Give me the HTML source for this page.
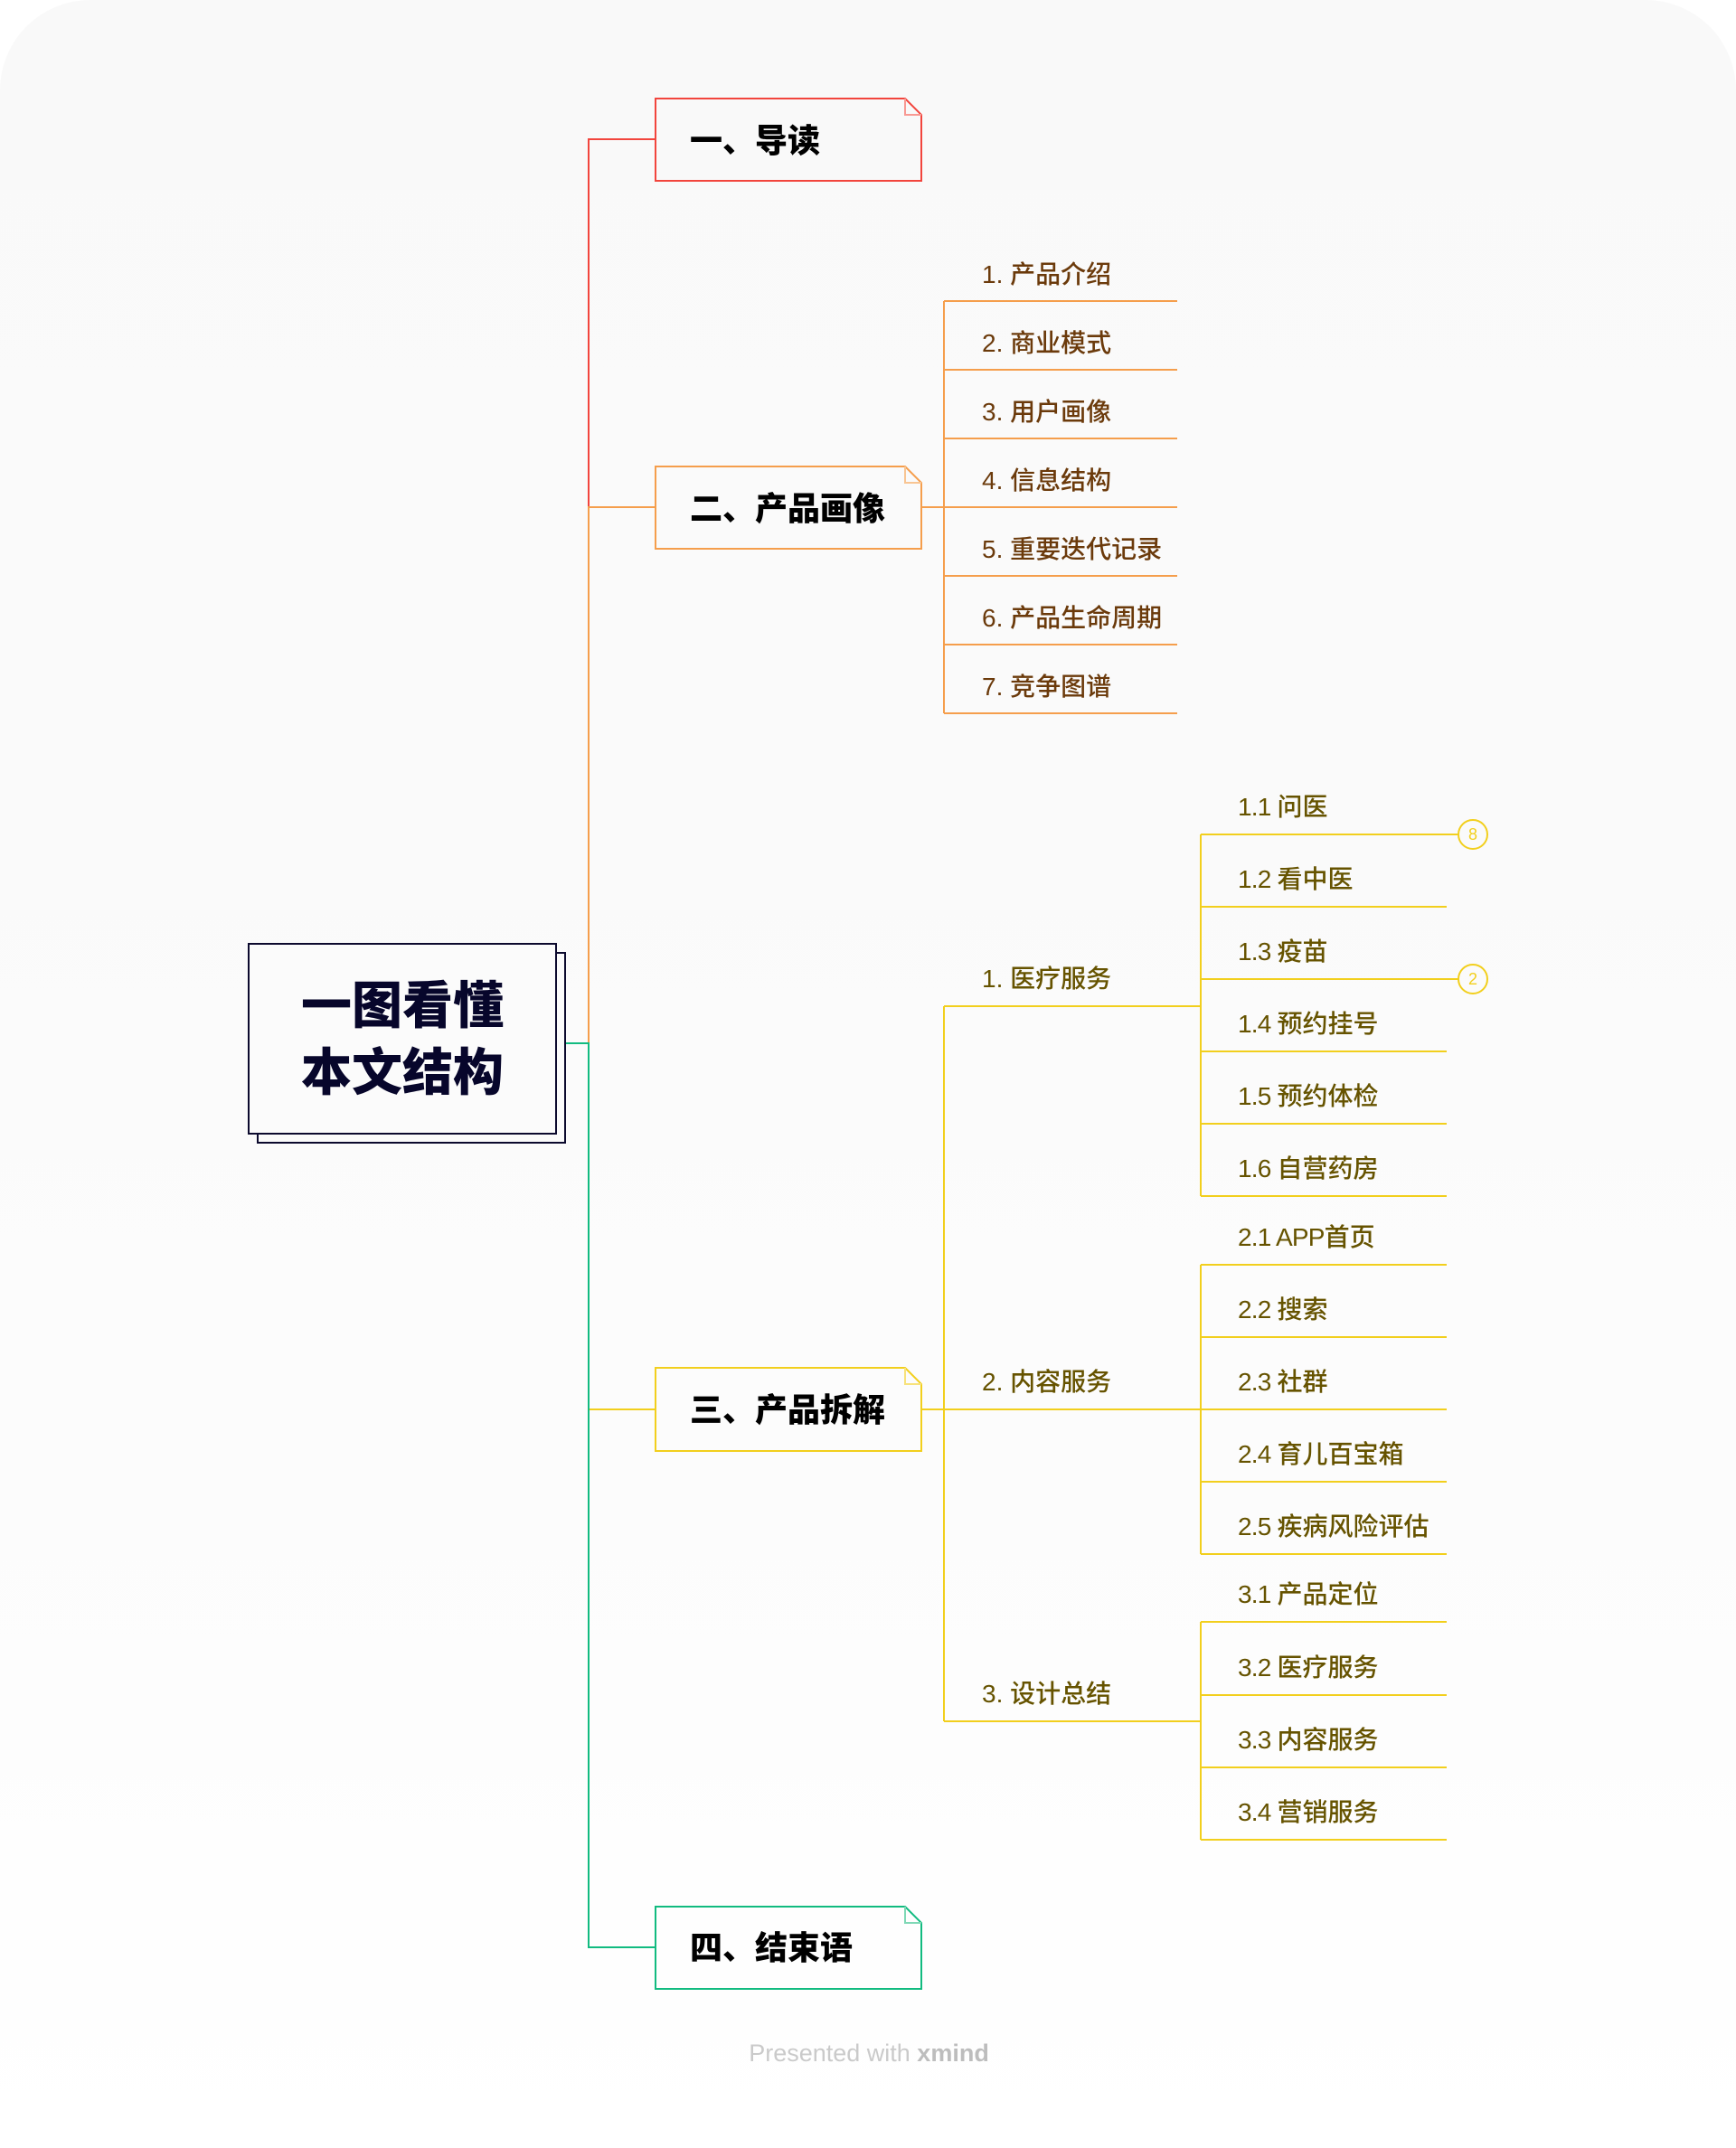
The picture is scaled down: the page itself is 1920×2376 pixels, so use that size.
<!DOCTYPE html>
<html>
<head>
<meta charset="utf-8">
<style>
  html, body { margin: 0; padding: 0; background: #ffffff; }
  body { width: 1920px; height: 2376px; overflow: hidden; }
  svg { display: block; }
  .box { font-family: "Liberation Sans", "Noto Sans CJK SC", sans-serif; font-size: 36px; font-weight: 900; fill: #000; }
  .root { font-family: "Liberation Sans", "Noto Sans CJK SC", sans-serif; font-size: 56px; font-weight: 900; fill: #07062b; }
  .to { font-family: "Liberation Sans", "Noto Sans CJK SC", sans-serif; font-size: 28px; font-weight: 500; fill: #6b3a0b; }
  .ty { font-family: "Liberation Sans", "Noto Sans CJK SC", sans-serif; font-size: 28px; font-weight: 500; fill: #665300; }
  .num { letter-spacing: -0.8px; }
</style>
</head>
<body>
<svg width="1920" height="2376" viewBox="0 0 1920 2376" xmlns="http://www.w3.org/2000/svg">
  <defs>
    <linearGradient id="bg" x1="0" y1="0" x2="0" y2="1">
      <stop offset="0" stop-color="#f9f9f9"/>
      <stop offset="0.35" stop-color="#fafafa"/>
      <stop offset="0.8" stop-color="#fdfdfd"/>
      <stop offset="1" stop-color="#ffffff"/>
    </linearGradient>
  </defs>
  <!-- background with rounded top corners -->
  <path d="M0 100 A100 100 0 0 1 100 0 H1820 A100 100 0 0 1 1920 100 V2376 H0 Z" fill="url(#bg)"/>

  <!-- trunk connectors -->
  <g fill="none" stroke-width="2" stroke-linejoin="miter">
    <path d="M651 1154 V154 H725" stroke="#f2453d"/>
    <path d="M651 1154 V561 H725" stroke="#f59e4c"/>
    <path d="M651 1154 V1559 H725" stroke="#f2cf1d"/>
    <path d="M625 1154 H651 V2154 H725" stroke="#12bb80"/>
  </g>

  <!-- root node -->
  <rect x="285" y="1054" width="340" height="210" fill="#fbfbfb" stroke="#0c0a2e" stroke-width="2"/>
  <rect x="275" y="1044" width="340" height="210" fill="#fbfbfb" stroke="#0c0a2e" stroke-width="2"/>
  <text class="root" x="445" y="1132" text-anchor="middle">一图看懂</text>
  <text class="root" x="445" y="1206" text-anchor="middle">本文结构</text>

  <!-- main topic boxes -->
  <g stroke-width="2" fill="none">
    <path d="M725 109 H1001 L1019 127 V200 H725 Z" stroke="#f2453d"/>
    <path d="M1001 109 V127 H1019" stroke="#f89a94"/>
    <path d="M725 516 H1001 L1019 534 V607 H725 Z" stroke="#f59e4c"/>
    <path d="M1001 516 V534 H1019" stroke="#f8c593"/>
    <path d="M725 1513 H1001 L1019 1531 V1605 H725 Z" stroke="#f2cf1d"/>
    <path d="M1001 1513 V1531 H1019" stroke="#f7e27c"/>
    <path d="M725 2109 H1001 L1019 2127 V2200 H725 Z" stroke="#12bb80"/>
    <path d="M1001 2109 V2127 H1019" stroke="#7fd8b6"/>
  </g>
  <text class="box" x="763" y="168">一、导读</text>
  <text class="box" x="763" y="575">二、产品画像</text>
  <text class="box" x="763" y="1572">三、产品拆解</text>
  <text class="box" x="763" y="2167">四、结束语</text>

  <!-- orange branch children -->
  <g fill="none" stroke="#f59e4c" stroke-width="2">
    <path d="M1019 561 H1044"/>
    <path d="M1044 333 V789"/>
    <path d="M1044 333 H1302"/>
    <path d="M1044 409 H1302"/>
    <path d="M1044 485 H1302"/>
    <path d="M1044 561 H1302"/>
    <path d="M1044 637 H1302"/>
    <path d="M1044 713 H1302"/>
    <path d="M1044 789 H1302"/>
  </g>
  <text class="to" x="1086" y="313">1. 产品介绍</text>
  <text class="to" x="1086" y="389">2. 商业模式</text>
  <text class="to" x="1086" y="465">3. 用户画像</text>
  <text class="to" x="1086" y="541">4. 信息结构</text>
  <text class="to" x="1086" y="617">5. 重要迭代记录</text>
  <text class="to" x="1086" y="693">6. 产品生命周期</text>
  <text class="to" x="1086" y="769">7. 竞争图谱</text>

  <!-- yellow branch -->
  <g fill="none" stroke="#f2cf1d" stroke-width="2">
    <path d="M1019 1559 H1044"/>
    <path d="M1044 1113 V1904"/>
    <path d="M1044 1113 H1328"/>
    <path d="M1044 1559 H1328"/>
    <path d="M1044 1904 H1328"/>
    <!-- group 1 -->
    <path d="M1328 923 V1323"/>
    <path d="M1328 923 H1613"/>
    <path d="M1328 1003 H1600"/>
    <path d="M1328 1083 H1613"/>
    <path d="M1328 1163 H1600"/>
    <path d="M1328 1243 H1600"/>
    <path d="M1328 1323 H1600"/>
    <circle cx="1629" cy="923" r="16"/>
    <circle cx="1629" cy="1083" r="16"/>
    <!-- group 2 -->
    <path d="M1328 1399 V1719"/>
    <path d="M1328 1399 H1600"/>
    <path d="M1328 1479 H1600"/>
    <path d="M1328 1559 H1600"/>
    <path d="M1328 1639 H1600"/>
    <path d="M1328 1719 H1600"/>
    <!-- group 3 -->
    <path d="M1328 1794 V2035"/>
    <path d="M1328 1794 H1600"/>
    <path d="M1328 1875 H1600"/>
    <path d="M1328 1955 H1600"/>
    <path d="M1328 2035 H1600"/>
  </g>
  <text x="1629" y="929" text-anchor="middle" font-family="Liberation Sans, sans-serif" font-size="18" fill="#f2cf1d">8</text>
  <text x="1629" y="1089" text-anchor="middle" font-family="Liberation Sans, sans-serif" font-size="18" fill="#f2cf1d">2</text>

  <text class="ty" x="1086" y="1092">1. 医疗服务</text>
  <text class="ty" x="1086" y="1538">2. 内容服务</text>
  <text class="ty" x="1086" y="1883">3. 设计总结</text>

  <text class="ty" x="1369" y="902"><tspan class="num">1.1 </tspan>问医</text>
  <text class="ty" x="1369" y="982"><tspan class="num">1.2 </tspan>看中医</text>
  <text class="ty" x="1369" y="1062"><tspan class="num">1.3 </tspan>疫苗</text>
  <text class="ty" x="1369" y="1142"><tspan class="num">1.4 </tspan>预约挂号</text>
  <text class="ty" x="1369" y="1222"><tspan class="num">1.5 </tspan>预约体检</text>
  <text class="ty" x="1369" y="1302"><tspan class="num">1.6 </tspan>自营药房</text>

  <text class="ty" x="1369" y="1378"><tspan class="num">2.1 APP</tspan>首页</text>
  <text class="ty" x="1369" y="1458"><tspan class="num">2.2 </tspan>搜索</text>
  <text class="ty" x="1369" y="1538"><tspan class="num">2.3 </tspan>社群</text>
  <text class="ty" x="1369" y="1618"><tspan class="num">2.4 </tspan>育儿百宝箱</text>
  <text class="ty" x="1369" y="1698"><tspan class="num">2.5 </tspan>疾病风险评估</text>

  <text class="ty" x="1369" y="1773"><tspan class="num">3.1 </tspan>产品定位</text>
  <text class="ty" x="1369" y="1854"><tspan class="num">3.2 </tspan>医疗服务</text>
  <text class="ty" x="1369" y="1934"><tspan class="num">3.3 </tspan>内容服务</text>
  <text class="ty" x="1369" y="2014"><tspan class="num">3.4 </tspan>营销服务</text>

  <!-- footer -->
  <text x="961" y="2280" text-anchor="middle" font-family="Liberation Sans, sans-serif" font-size="27" fill="#cacaca">Presented with <tspan font-weight="bold" fill="#bdbdbd">xmind</tspan></text>
</svg>
</body>
</html>
